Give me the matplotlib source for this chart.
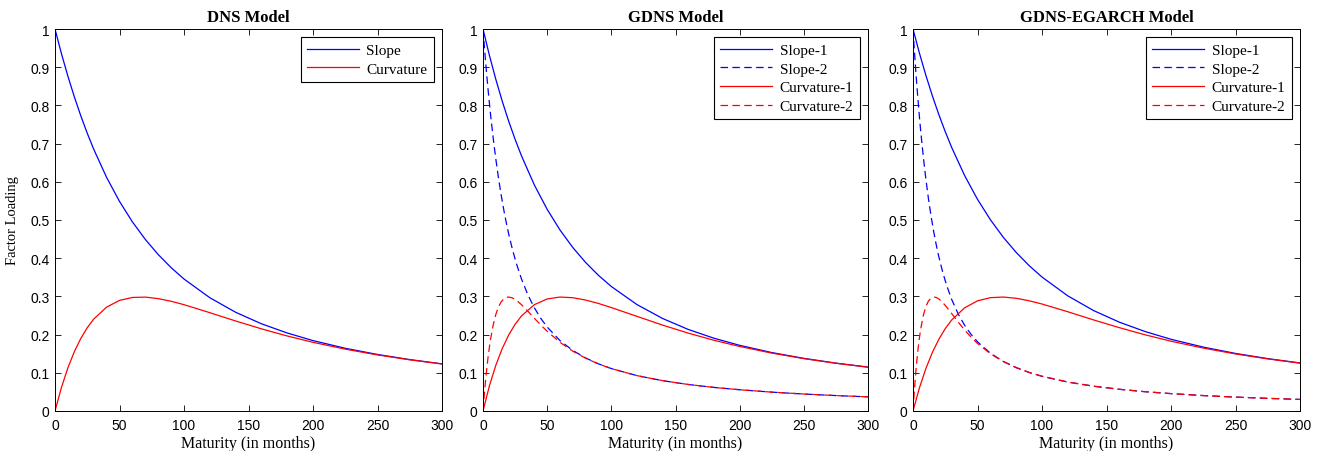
import matplotlib
matplotlib.use("Agg")
import matplotlib.pyplot as plt

# maturities (months)
mat_slow = [0, 5, 10, 15, 20, 25, 30, 40, 50, 60, 70, 80, 90, 100, 120, 140,
            160, 180, 200, 225, 250, 275, 300]
mat_fast = [0, 1, 2, 3, 4, 5, 6, 8, 10, 12, 14, 16, 18, 20, 23, 26, 30, 35, 40,
            45, 50, 60, 70, 80, 90, 100, 120, 140, 160, 180, 200, 225, 250, 275, 300]

# DNS model
dns_slope = [1.0, 0.9354, 0.8764, 0.8223, 0.7727, 0.7272, 0.6854, 0.6115, 0.5487,
             0.4951, 0.4492, 0.4096, 0.3753, 0.3455, 0.2966, 0.2585, 0.2284, 0.2042,
             0.1843, 0.1642, 0.1480, 0.1346, 0.1234]
dns_curv = [0.0, 0.0617, 0.1130, 0.1553, 0.1899, 0.2180, 0.2405, 0.2719, 0.2895,
            0.2972, 0.2981, 0.2942, 0.2873, 0.2783, 0.2574, 0.2357, 0.2151, 0.1964,
            0.1798, 0.1619, 0.1468, 0.1340, 0.1231]

# GDNS model
gdns_slope1 = [1.0, 0.9309, 0.8681, 0.8109, 0.7588, 0.7113, 0.6679, 0.5918, 0.5279,
               0.4738, 0.4279, 0.3887, 0.3550, 0.3259, 0.2785, 0.2421, 0.2134, 0.1905,
               0.1719, 0.1530, 0.1378, 0.1253, 0.1149]
gdns_curv1 = [0.0, 0.0659, 0.1198, 0.1636, 0.1989, 0.2270, 0.2489, 0.2783, 0.2933,
              0.2983, 0.2966, 0.2904, 0.2815, 0.2708, 0.2477, 0.2248, 0.2038, 0.1851,
              0.1689, 0.1516, 0.1371, 0.1250, 0.1147]
gdns_slope2 = [1.0, 0.9563, 0.9152, 0.8764, 0.8398, 0.8053, 0.7727, 0.7128, 0.6594,
               0.6115, 0.5685, 0.5299, 0.4951, 0.4637, 0.4221, 0.3862, 0.3455, 0.3039,
               0.2702, 0.2426, 0.2198, 0.1843, 0.1584, 0.1388, 0.1234, 0.1111, 0.0926,
               0.0794, 0.0694, 0.0617, 0.0556, 0.0494, 0.0444, 0.0404, 0.0370]
gdns_curv2 = [0.0, 0.0424, 0.0799, 0.1130, 0.1421, 0.1677, 0.1899, 0.2261, 0.2528,
              0.2719, 0.2849, 0.2930, 0.2972, 0.2984, 0.2959, 0.2899, 0.2783, 0.2610,
              0.2429, 0.2252, 0.2087, 0.1798, 0.1566, 0.1381, 0.1231, 0.1110, 0.0926,
              0.0794, 0.0694, 0.0617, 0.0556, 0.0494, 0.0444, 0.0404, 0.0370]

# GDNS-EGARCH model
eg_slope1 = [1.0, 0.9366, 0.8785, 0.8252, 0.7762, 0.7312, 0.6898, 0.6165, 0.5541,
             0.5007, 0.4547, 0.4151, 0.3807, 0.3507, 0.3014, 0.2629, 0.2325, 0.2079,
             0.1877, 0.1673, 0.1507, 0.1371, 0.1257]
eg_curv1 = [0.0, 0.0607, 0.1113, 0.1532, 0.1876, 0.2157, 0.2383, 0.2701, 0.2883,
            0.2967, 0.2983, 0.2951, 0.2886, 0.2801, 0.2598, 0.2384, 0.2181, 0.1994,
            0.1827, 0.1647, 0.1494, 0.1364, 0.1253]
eg_slope2 = [1.0, 0.9470, 0.8976, 0.8517, 0.8090, 0.7692, 0.7320, 0.6650, 0.6065,
             0.5552, 0.5101, 0.4704, 0.4353, 0.4042, 0.3638, 0.3296, 0.2919, 0.2542,
             0.2245, 0.2006, 0.1811, 0.1513, 0.1298, 0.1136, 0.1010, 0.0909, 0.0758,
             0.0649, 0.0568, 0.0505, 0.0455, 0.0404, 0.0364, 0.0331, 0.0303]
eg_curv2 = [0.0, 0.0512, 0.0951, 0.1328, 0.1650, 0.1922, 0.2152, 0.2502, 0.2736,
            0.2881, 0.2957, 0.2984, 0.2972, 0.2934, 0.2841, 0.2724, 0.2550, 0.2329,
            0.2122, 0.1935, 0.1770, 0.1499, 0.1294, 0.1135, 0.1010, 0.0909, 0.0758,
            0.0649, 0.0568, 0.0505, 0.0455, 0.0404, 0.0364, 0.0331, 0.0303]

titles = ["DNS Model", "GDNS Model", "GDNS-EGARCH Model"]
xticks = [0, 50, 100, 150, 200, 250, 300]
yticks = [0, 0.1, 0.2, 0.3, 0.4, 0.5, 0.6, 0.7, 0.8, 0.9, 1.0]
ytick_labels = ["0", "0.1", "0.2", "0.3", "0.4", "0.5", "0.6", "0.7", "0.8", "0.9", "1"]

SERIF = "Liberation Serif"
SANS = "Liberation Sans"

fig = plt.figure(figsize=(13.27, 4.52), dpi=100)
fig.patch.set_facecolor("white")

lefts = [55, 483, 913]
rights = [442, 868, 1300]
top_px, bot_px = 30, 412
W, H = 1327.0, 452.0
axes = []
for l, r in zip(lefts, rights):
    ax = fig.add_axes([l / W, 1 - bot_px / H, (r - l) / W, (bot_px - top_px) / H])
    axes.append(ax)

lw = 0.9
blue = (0, 0, 1)
red = (1, 0, 0)
dash = (0, (6, 3.5))

ax = axes[0]
ax.plot(mat_slow, dns_slope, color=blue, lw=lw, label="Slope")
ax.plot(mat_slow, dns_curv, color=red, lw=lw, label="Curvature")

ax = axes[1]
ax.plot(mat_slow, gdns_slope1, color=blue, lw=lw, label="Slope-1")
ax.plot(mat_fast, gdns_slope2, color=blue, lw=lw, linestyle=dash, label="Slope-2")
ax.plot(mat_slow, gdns_curv1, color=red, lw=lw, label="Curvature-1")
ax.plot(mat_fast, gdns_curv2, color=red, lw=lw, linestyle=dash, label="Curvature-2")

ax = axes[2]
ax.plot(mat_slow, eg_slope1, color=blue, lw=lw, label="Slope-1")
ax.plot(mat_fast, eg_slope2, color=blue, lw=lw, linestyle=dash, label="Slope-2")
ax.plot(mat_slow, eg_curv1, color=red, lw=lw, label="Curvature-1")
ax.plot(mat_fast, eg_curv2, color=red, lw=lw, linestyle=dash, label="Curvature-2")

for i, ax in enumerate(axes):
    ax.set_xlim(0, 300)
    ax.set_ylim(0, 1)
    ax.set_xticks(xticks)
    ax.set_xticklabels([str(t) for t in xticks], fontfamily=SANS, fontsize=10)
    ax.set_yticks(yticks)
    ax.set_yticklabels(ytick_labels, fontfamily=SANS, fontsize=10)
    ax.tick_params(axis="x", pad=5)
    ax.tick_params(axis="y", pad=4)
    ax.tick_params(direction="in", top=True, right=True, length=4, width=0.6,
                   colors="black")
    for sp in ax.spines.values():
        sp.set_linewidth(0.7)
        sp.set_color("black")
    ax.set_title(titles[i], fontfamily=SERIF, fontweight="bold", fontsize=12, pad=6)
    ax.set_xlabel("Maturity (in months)", fontfamily=SERIF, fontsize=11.5, labelpad=2)
    leg = ax.legend(loc="upper right", prop={"family": SERIF, "size": 11},
                    handlelength=3.4, handletextpad=0.5, borderpad=0.4,
                    labelspacing=0.32, borderaxespad=0.55, fancybox=False,
                    framealpha=1, edgecolor="black")
    leg.get_frame().set_linewidth(0.8)

axes[0].set_ylabel("Factor Loading", fontfamily=SERIF, fontsize=10.5, labelpad=8)

fig.savefig("out.png", dpi=100, facecolor="white")
